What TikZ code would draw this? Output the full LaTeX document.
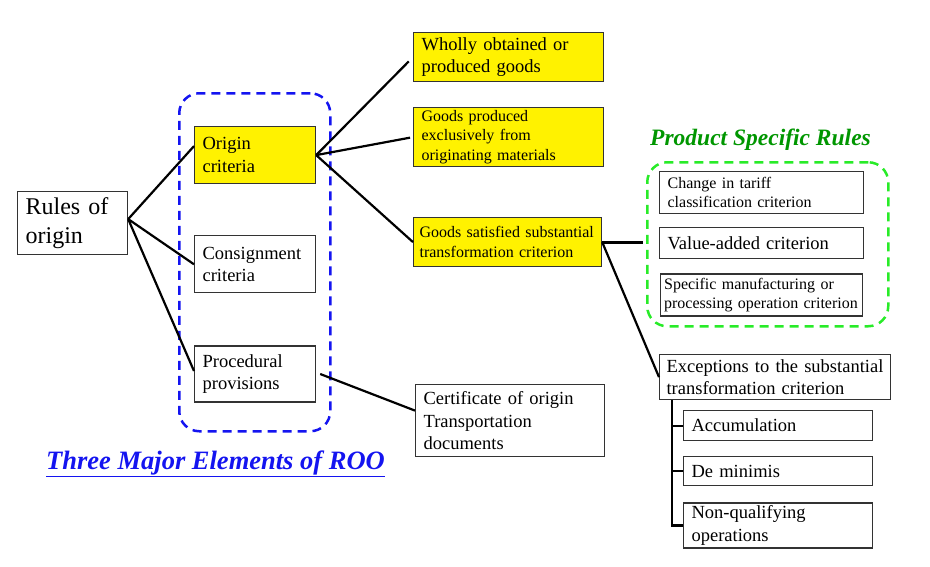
\documentclass[tikz,border=0pt]{standalone}
\usepackage{fontspec}
\setmainfont{Liberation Serif}
\usetikzlibrary{positioning}

\definecolor{roOblue}{RGB}{20,20,240}
\definecolor{psrgreen}{RGB}{40,235,40}
\definecolor{titlegreen}{RGB}{0,150,0}

\tikzset{
	box/.style={draw=black!80, line width=1.2pt, align=left, anchor=north west, inner xsep=8pt, inner ysep=1pt},
	hilite/.style={box, fill=yellow},
	bigtext/.style={font=\fontsize{24}{29}\selectfont},
	midtext/.style={font=\fontsize{18.5}{22.5}\selectfont},
	smalltext/.style={font=\fontsize{16}{19.5}\selectfont},
	link/.style={line width=2.2pt},
	group/.style={draw, line width=2.5pt, dash pattern=on 9pt off 6pt, rounded corners=20pt, anchor=north west, inner sep=0pt},
}

\begin{document}
\begin{tikzpicture}[x=1pt, y=-1pt]
	\useasboundingbox (0,0) rectangle (930,566);

	% Groups
	\node [group, roOblue, minimum width=151pt, minimum height=338pt] at (178,92) (ROO) {};
	\node [group, psrgreen, minimum width=241pt, minimum height=164pt] at (646,161) (PSR) {};

	% Level 1
	\node [box, bigtext, text width=94pt, minimum height=63pt] at (17,191) (1Rules) {Rules of\\origin};

	% Level 2
	\node [hilite, midtext, text width=105pt, minimum height=57pt] at (194,126) (2Origin) {Origin\\criteria};
	\node [box, midtext, text width=105pt, minimum height=57pt, below=51pt of 2Origin] (2Consign) {Consignment\\criteria};
	\node [box, midtext, text width=105pt, minimum height=56pt, below=52pt of 2Consign] (2Proc) {Procedural\\provisions};

	% Level 3
	\node [hilite, midtext, text width=174pt, minimum height=49pt] at (413,32) (3Wholly) {Wholly obtained or\\produced goods};
	\node [hilite, smalltext, text width=174pt, minimum height=59pt] at (413,107) (3Exclusive) {Goods produced\\exclusively from\\originating materials};
	\node [hilite, smalltext, inner xsep=6pt, text width=176pt, minimum height=49pt] at (413,217) (3Substantial) {Goods satisfied substantial\\transformation criterion};
	\node [box, midtext, text width=173pt, minimum height=72pt] at (415,384) (3Certificate) {Certificate of origin\\Transportation\\documents};

	% Level 4
	\node [box, smalltext, text width=188pt, minimum height=42pt] at (659,171) (4Tariff) {Change in tariff\\classification criterion};
	\node [box, midtext, text width=188pt, minimum height=31pt, below=13pt of 4Tariff] (4Value) {Value-added criterion};
	\node [box, smalltext, inner xsep=3.5pt, text width=195pt, minimum height=42pt, below=14pt of 4Value] (4Specific) {Specific manufacturing or\\processing operation criterion};
	\node [box, midtext, inner xsep=7pt, text width=217pt, minimum height=45pt] at (659,354) (4Except) {Exceptions to the substantial\\transformation criterion};

	% Level 5
	\node [box, midtext, text width=173pt, minimum height=30pt] at (683,410) (5Accum) {Accumulation};
	\node [box, midtext, text width=173pt, minimum height=29pt, below=15pt of 5Accum] (5Minimis) {De minimis};
	\node [box, midtext, text width=173pt, minimum height=45pt, below=16pt of 5Minimis] (5NonQual) {Non-qualifying\\operations};

	% Titles
	\node [anchor=base west, inner sep=0pt, text=roOblue, font=\fontsize{26.5}{30}\selectfont\bfseries\itshape] at (46,469) (rooTitle) {\underline{Three Major Elements of ROO}};
	\node [anchor=base west, inner sep=0pt, text=titlegreen, font=\fontsize{23.5}{28}\selectfont\bfseries\itshape] at (650,145) (psrTitle) {Product Specific Rules};

	% Connections
	\draw [link] ([yshift=4pt]1Rules.east) -- ([yshift=9pt]2Origin.west);
	\draw [link] ([yshift=4pt]1Rules.east) -- (2Consign.west);
	\draw [link] ([yshift=4pt]1Rules.east) -- ([yshift=3pt]2Proc.west);
	\draw [link, shorten >=6pt] (2Origin.east) -- (3Wholly.west);
	\draw [link, shorten >=3pt] (2Origin.east) -- (3Exclusive.west);
	\draw [link] (2Origin.east) -- (3Substantial.west);
	\draw [link] ([xshift=4pt]2Proc.east) -- ([yshift=10pt]3Certificate.west);
	\draw [link, line width=3pt, shorten >=3pt] (3Substantial.east) -- (PSR.west |- 3Substantial.east);
	\draw [link] (3Substantial.east) -- (4Except.west);

	% Exceptions bracket
	\coordinate (brk) at ([xshift=13pt]4Except.south west);
	\draw [link] (brk) |- (5NonQual.west);
	\draw [link] (brk |- 5Accum.west) -- (5Accum.west);
	\draw [link] (brk |- 5Minimis.west) -- (5Minimis.west);
\end{tikzpicture}
\end{document}
